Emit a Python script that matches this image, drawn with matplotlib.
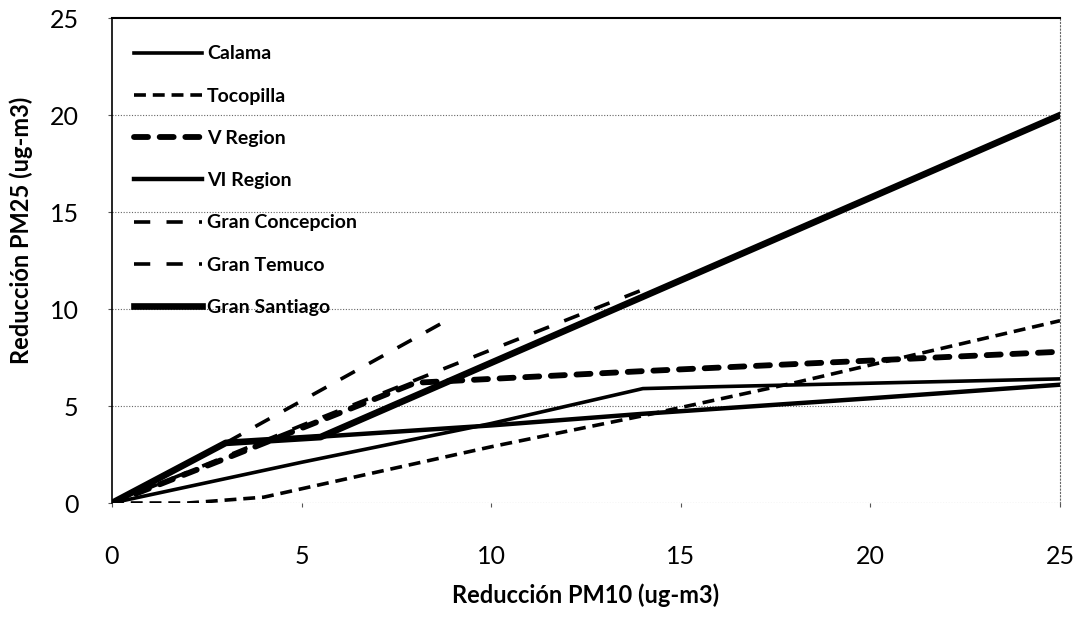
import matplotlib
matplotlib.use("Agg")
import matplotlib.pyplot as plt

plt.rcParams['font.family'] = ['Lato', 'DejaVu Sans']

# Data
calama_x = [0, 5, 10, 14, 16, 25]
calama_y = [0, 2.1, 4.1, 5.9, 6.0, 6.4]

tocopilla_x = [0, 2, 4, 10, 14, 18, 25]
tocopilla_y = [0, 0, 0.3, 2.9, 4.5, 6.2, 9.4]

vregion_x = [0, 3, 8, 14, 25]
vregion_y = [0, 2.3, 6.2, 6.8, 7.8]

viregion_x = [0, 3, 10, 14, 20, 25]
viregion_y = [0, 3.1, 4.0, 4.6, 5.4, 6.1]

concepcion_x = [0, 3, 9]
concepcion_y = [0, 3.1, 9.6]

temuco_x = [0, 5, 10, 14]
temuco_y = [0, 4.0, 7.9, 11.0]

santiago_x = [0, 3, 5.5, 25]
santiago_y = [0, 3.1, 3.4, 20]

labels = ["Calama", "Tocopilla", "V Region", "VI Region",
          "Gran Concepcion", "Gran Temuco", "Gran Santiago"]

xticks = [0, 5, 10, 15, 20, 25]
yticks = [0, 5, 10, 15, 20, 25]

fig = plt.figure(figsize=(10.81, 6.2), dpi=100)
ax = fig.add_axes([0.1036, 0.1887, 0.877, 0.782])

ax.plot(calama_x, calama_y, color='black', lw=2.6, ls='-', label=labels[0])
ax.plot(tocopilla_x, tocopilla_y, color='black', lw=2.6, ls=(0, (3.3, 1.9)), label=labels[1])
ax.plot(vregion_x, vregion_y, color='black', lw=4.2, ls=(0, (2.4, 2.0)),
        dash_capstyle='round', label=labels[2])
ax.plot(viregion_x, viregion_y, color='black', lw=3.2, ls='-', label=labels[3])
ax.plot(concepcion_x, concepcion_y, color='black', lw=2.6, ls=(0, (4.5, 4.5)), label=labels[4])
ax.plot(temuco_x, temuco_y, color='black', lw=2.6, ls=(0, (4.5, 4.5)), label=labels[5])
ax.plot(santiago_x, santiago_y, color='black', lw=4.8, ls='-', label=labels[6])

ax.set_xlim(0, 25)
ax.set_ylim(0, 25)
ax.set_xticks(xticks)
ax.set_yticks(yticks)
ax.tick_params(axis='both', labelsize=18, length=3, color='#555555')
ax.tick_params(axis='x', pad=27)
ax.tick_params(axis='y', pad=21)

for y in yticks[:-1]:
    ax.axhline(y, color='#666666', lw=0.8, ls=(0, (1, 1.5)), zorder=0)

ax.spines['left'].set_linewidth(1.2)
ax.spines['top'].set_linewidth(1.5)
ax.spines['right'].set_linestyle((0, (1, 2)))
ax.spines['right'].set_color('#666666')
ax.spines['bottom'].set_visible(False)

ax.set_xlabel('Reducción PM10 (ug-m3)', fontsize=17, fontweight='bold')
ax.xaxis.set_label_coords(0.5, -0.166)
ax.set_ylabel('Reducción PM25 (ug-m3)', fontsize=17, fontweight='bold')
ax.yaxis.set_label_coords(-0.083, 0.563)

leg = ax.legend(loc='upper left', bbox_to_anchor=(0.005, 0.98), frameon=False,
                handlelength=3.5, handletextpad=0.25, labelspacing=1.3,
                prop={'weight': 'bold', 'size': 14})

fig.savefig('out.png', dpi=100)
